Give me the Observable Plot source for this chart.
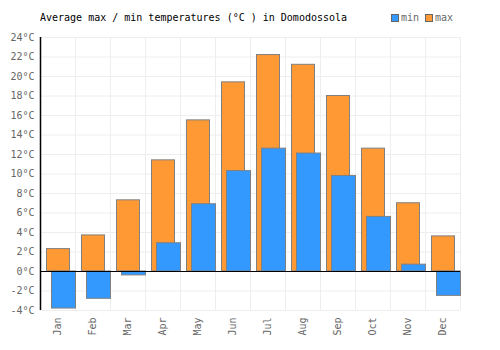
<!DOCTYPE html>
<html>
<head>
<meta charset="utf-8">
<script src="https://cdn.jsdelivr.net/npm/d3@7"></script>
<script src="https://cdn.jsdelivr.net/npm/@observablehq/plot@0.6"></script>
<style>
  body { margin: 0; background: white; }
  #wrap { position: relative; width: 500px; height: 350px; overflow: hidden; }
  #chart { position: absolute; left: 0; top: 0; }
  #title { position: absolute; left: 40px; top: 12px; font: 10px "DejaVu Sans Mono", monospace; color: #000; white-space: nowrap; }
  #legend { position: absolute; left: 391px; top: 12px; font: 10px "DejaVu Sans Mono", monospace; color: #666; white-space: nowrap; display: flex; align-items: center; }
  .sw { display: inline-block; width: 6px; height: 6px; border: 1px solid #666; margin-right: 2px; }
</style>
</head>
<body>
<div id="wrap">
  <div id="chart"></div>
  <div id="title">Average max / min temperatures (°C ) in Domodossola</div>
  <div id="legend"></div>
</div>
<script>
const months = ["Jan","Feb","Mar","Apr","May","Jun","Jul","Aug","Sep","Oct","Nov","Dec"];
const maxTemps = [2.3, 3.7, 7.3, 11.4, 15.5, 19.4, 22.2, 21.2, 18.0, 12.6, 7.0, 3.6];
const minTemps = [-3.8, -2.8, -0.4, 2.9, 6.9, 10.3, 12.6, 12.1, 9.8, 5.6, 0.7, -2.5];
const yTicks = [-4, -2, 0, 2, 4, 6, 8, 10, 12, 14, 16, 18, 20, 22, 24];
const seriesNames = ["min", "max"];
const seriesColors = ["#3399ff", "#ff9933"];

const data = months.map((m, i) => ({month: m, max: maxTemps[i], min: minTemps[i]}));
const half = (500 - 40 - 40) / months.length / 2;

const plot = Plot.plot({
  width: 500,
  height: 350,
  marginTop: 37,
  marginBottom: 40,
  marginLeft: 40,
  marginRight: 40,
  style: {fontFamily: "DejaVu Sans Mono, monospace", fontSize: "10px", color: "#666", background: "white", overflow: "visible"},
  x: {domain: months, padding: 0, label: null},
  y: {domain: [yTicks[0], yTicks[yTicks.length - 1]], label: null},
  marks: [
    Plot.ruleY(yTicks, {stroke: "#eeeeee", strokeWidth: 1}),
    Plot.ruleX(months, {x: d => d, dx: -half, y1: yTicks[0], y2: yTicks[yTicks.length - 1], stroke: "#eeeeee"}),
    Plot.ruleX([months[months.length - 1]], {x: d => d, dx: half, y1: yTicks[0], y2: yTicks[yTicks.length - 1], stroke: "#eeeeee"}),
    Plot.barY(data, {x: "month", y: "max", fill: seriesColors[1], stroke: "#808080", strokeWidth: 1, insetLeft: 6.5, insetRight: 5.5}),
    Plot.barY(data, {x: "month", y: "min", fill: seriesColors[0], stroke: "#808080", strokeWidth: 1, insetLeft: 11.5, insetRight: -0.5}),
    Plot.ruleY([0], {stroke: "black", strokeWidth: 1.2}),
    Plot.ruleX([months[0]], {x: d => d, dx: -half, y1: yTicks[0], y2: yTicks[yTicks.length - 1], stroke: "black", strokeWidth: 1.5}),
    Plot.axisY({ticks: yTicks, tickFormat: d => d + "°C", tickSize: 0, tickPadding: 6, fill: "#666", label: null}),
    Plot.axisX({tickRotate: -90, tickSize: 0, tickPadding: 7, fill: "#666", label: null})
  ]
});
document.getElementById("chart").appendChild(plot);

const legend = document.getElementById("legend");
seriesNames.forEach((name, i) => {
  const sw = document.createElement("span");
  sw.className = "sw";
  sw.style.background = seriesColors[i];
  legend.appendChild(sw);
  const t = document.createElement("span");
  t.textContent = name;
  t.style.marginRight = "6px";
  legend.appendChild(t);
});
</script>
</body>
</html>
